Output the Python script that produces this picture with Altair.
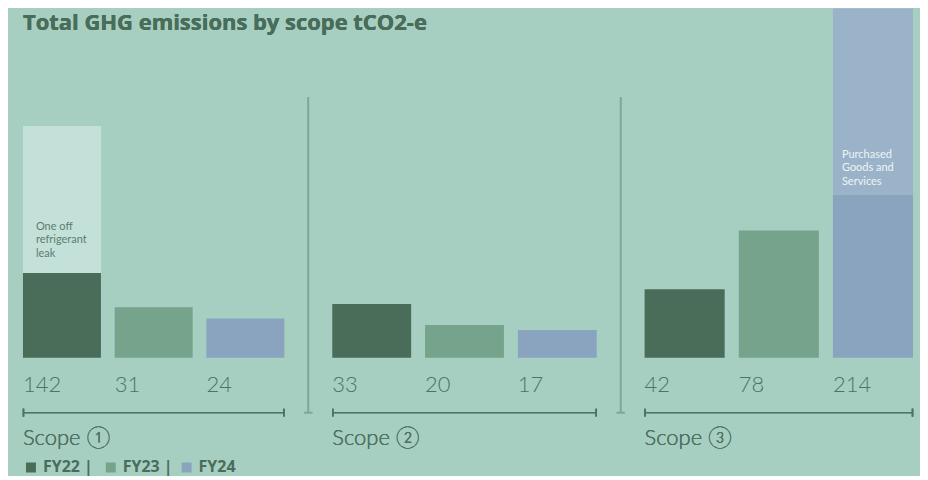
import altair as alt
import pandas as pd

# ---- data ----
years = ["FY22", "FY23", "FY24"]
scopes = ["Scope ①", "Scope ②", "Scope ③"]
scope1_totals = [142, 31, 24]
scope2_totals = [33, 20, 17]
scope3_totals = [42, 78, 214]
scope1_fy22_base = 52          # excluding one-off refrigerant leak (estimated)
scope3_fy24_base = 100         # excluding purchased goods and services (estimated)
annot_leak = "One off\nrefrigerant\nleak"
annot_pgs = "Purchased\nGoods and\nServices"
title_text = "Total GHG emissions by scope tCO2-e"

seg_domain = ["FY22", "FY23", "FY24", "leak", "pgs"]
seg_range = ["#4a6d5a", "#76a38b", "#8aa3bf", "#c3e1d8", "#9bb3c9"]

BG = "#a6cfc2"
TXT = "#4f7262"
TITLE = "#4a6d5a"
FONT = "Lato, DejaVu Sans, sans-serif"
BOLDFONT = "Open Sans, DejaVu Sans, sans-serif"

totals_by_scope = [scope1_totals, scope2_totals, scope3_totals]

def segments(si):
    rows = []
    tots = totals_by_scope[si]
    for i, fy in enumerate(years):
        t = tots[i]
        if si == 0 and fy == "FY22":
            rows.append(dict(fy=fy, seg=fy, value=scope1_fy22_base, ord=0))
            rows.append(dict(fy=fy, seg="leak", value=t - scope1_fy22_base, ord=1))
        elif si == 2 and fy == "FY24":
            rows.append(dict(fy=fy, seg=fy, value=scope3_fy24_base, ord=0))
            rows.append(dict(fy=fy, seg="pgs", value=t - scope3_fy24_base, ord=1))
        else:
            rows.append(dict(fy=fy, seg=fy, value=t, ord=0))
    return pd.DataFrame(rows)

widths = [262, 265, 269]
xscale = alt.Scale(domain=years, paddingInner=0.15, paddingOuter=0)
yscale = alt.Scale(domain=[0, 214], nice=False)

legend = alt.Legend(
    orient="none", legendX=0, legendY=452, direction="horizontal", title=None,
    values=years, symbolType="square", symbolSize=100, symbolStrokeWidth=0,
    labelFont=BOLDFONT, labelFontSize=16, labelFontWeight="bold", labelColor=TITLE,
    labelExpr="datum.label == 'FY22' ? 'FY22  |' : datum.label == 'FY23' ? 'FY23 |' : datum.label",
    columnPadding=5, labelOffset=4,
)

def panel(si):
    w = widths[si]
    df = segments(si)
    dtot = pd.DataFrame(dict(fy=years, total=totals_by_scope[si]))
    base = alt.Chart(df)
    bars = base.mark_bar().encode(
        x=alt.X("fy:N", scale=xscale, axis=None),
        y=alt.Y("value:Q", stack="zero", scale=yscale, axis=None),
        color=alt.Color("seg:N", scale=alt.Scale(domain=seg_domain, range=seg_range), legend=legend),
        order=alt.Order("ord:Q"),
    )
    vals = alt.Chart(dtot).mark_text(
        align="left", baseline="middle", font=FONT, fontSize=22, fontWeight=300,
        color=TXT,
    ).encode(
        x=alt.X("fy:N", scale=xscale, axis=None, bandPosition=0),
        y=alt.value(377),
        text="total:Q",
    )
    bracket = alt.Chart(dtot).mark_rule(color=TXT, strokeWidth=1.5).encode(
        x=alt.value(0), x2=alt.value(w), y=alt.value(405))
    tick_l = alt.Chart(dtot).mark_rule(color=TXT, strokeWidth=1.5).encode(
        x=alt.value(0.5), y=alt.value(401), y2=alt.value(409))
    tick_r = alt.Chart(dtot).mark_rule(color=TXT, strokeWidth=1.5).encode(
        x=alt.value(w - 0.5), y=alt.value(401), y2=alt.value(409))
    label = alt.Chart(dtot).mark_text(
        text=scopes[si], align="left", baseline="middle", font=FONT, fontSize=22,
        fontWeight=300, color=TXT,
    ).encode(x=alt.value(0), y=alt.value(430))
    layers = [bars, vals, bracket, tick_l, tick_r, label]
    if si < 2:
        sep = alt.Chart(dtot).mark_rule(color="#7ea897", strokeWidth=1.5).encode(
            x=alt.value(w + 24), y=alt.value(89), y2=alt.value(405))
        sep_t = alt.Chart(dtot).mark_rule(color="#7ea897", strokeWidth=1.5).encode(
            x=alt.value(w + 20), x2=alt.value(w + 28), y=alt.value(405))
        layers += [sep, sep_t]
    if si == 0:
        ann = pd.DataFrame(dict(fy=["FY22"], v=[scope1_fy22_base], t=[annot_leak]))
        layers.append(alt.Chart(ann).mark_text(
            align="left", baseline="top", lineBreak="\n", lineHeight=13.5,
            font=FONT, fontSize=11, color="#5c7d6e", dx=13, dy=-52,
        ).encode(x=alt.X("fy:N", scale=xscale, axis=None, bandPosition=0),
                 y=alt.Y("v:Q", scale=yscale, axis=None), text="t:N"))
        layers.append(alt.Chart(dtot).mark_text(
            text=title_text, align="left", baseline="middle", font=BOLDFONT, fontSize=22,
            fontWeight="bold", color=TITLE,
        ).encode(x=alt.value(0), y=alt.value(15)))
    if si == 2:
        ann = pd.DataFrame(dict(fy=["FY24"], v=[scope3_fy24_base], t=[annot_pgs]))
        layers.append(alt.Chart(ann).mark_text(
            align="left", baseline="top", lineBreak="\n", lineHeight=13.5,
            font=FONT, fontSize=11, color="#eef3f4", dx=9, dy=-46,
        ).encode(x=alt.X("fy:N", scale=xscale, axis=None, bandPosition=0),
                 y=alt.Y("v:Q", scale=yscale, axis=None), text="t:N"))
    return alt.layer(*layers).properties(width=w, height=350)

chart = alt.hconcat(panel(0), panel(1), panel(2), spacing=48, bounds="flush").properties(
    padding={"left": 14, "top": 0, "right": 6, "bottom": 0},
    background=BG,
).configure_view(stroke=None)

chart.save("out.html", embed_options={"renderer": "svg", "actions": False})
